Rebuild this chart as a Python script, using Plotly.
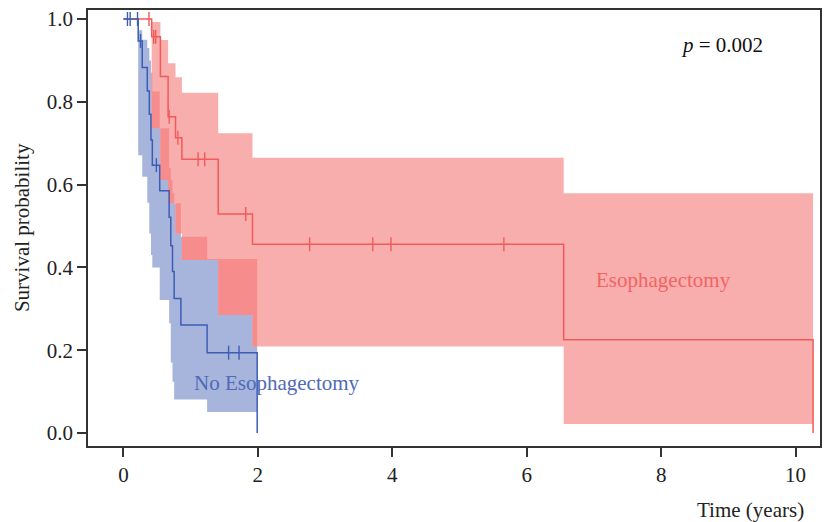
import plotly.graph_objects as go

# ---------------- data ----------------
# Esophagectomy group: step start times, survival, CI for each step interval
red_times = [0.0, 0.42, 0.55, 0.665, 0.775, 0.87, 1.41, 1.92, 6.55, 10.26]
red_surv = [1.0, 0.957, 0.861, 0.764, 0.713, 0.661, 0.529, 0.456, 0.225, 0.0]
red_lower = [1.0, 0.736, 0.611, 0.555, 0.482, 0.418, 0.285, 0.209, 0.022]
red_upper = [1.0, 0.993, 0.949, 0.893, 0.859, 0.822, 0.724, 0.665, 0.579]
red_cens_t = [0.38, 0.45, 0.48, 0.68, 0.81, 1.11, 1.21, 1.82, 2.77, 3.71, 3.98, 5.66]

# No Esophagectomy group
blue_times = [0.0, 0.22, 0.28, 0.355, 0.385, 0.41, 0.43, 0.54, 0.68, 0.705,
              0.73, 0.755, 0.855, 1.245, 1.99]
blue_surv = [1.0, 0.947, 0.883, 0.826, 0.77, 0.708, 0.647, 0.585, 0.521, 0.452,
             0.39, 0.325, 0.261, 0.194, 0.0]
blue_lower = [1.0, 0.671, 0.619, 0.556, 0.482, 0.43, 0.40, 0.321, 0.265, 0.170,
              0.124, 0.081, 0.081, 0.051]
blue_upper = [1.0, 0.973, 0.95, 0.93, 0.90, 0.87, 0.825, 0.736, 0.64, 0.611,
              0.58, 0.555, 0.474, 0.42]
blue_cens_t = [0.06, 0.10, 0.21, 0.255, 0.49, 1.565, 1.72]

x_ticks = [0, 2, 4, 6, 8, 10]
y_ticks = [0.0, 0.2, 0.4, 0.6, 0.8, 1.0]

group_names = ["Esophagectomy", "No Esophagectomy"]
p_label = "<i>p</i> = 0.002"

# ---------------- styling ----------------
RED_LINE = "#F25A5A"
BLUE_LINE = "#3D5DB5"
RED_FILL = "#F9AEAE"
BLUE_FILL = "#A7B5DC"
OVER_FILL = "#F78C8C"
FONT = "Liberation Serif, Times New Roman, serif"


def step_xy(times, surv):
    xs, ys = [], []
    for i, (t, s) in enumerate(zip(times, surv)):
        if i > 0:
            xs.append(t)
            ys.append(surv[i - 1])
        xs.append(t)
        ys.append(s)
    return xs, ys


def band_poly(times, lower, upper):
    n = len(lower)
    xs, ys = [], []
    for i in range(n):
        xs += [times[i], times[i + 1]]
        ys += [upper[i], upper[i]]
    for i in range(n - 1, -1, -1):
        xs += [times[i + 1], times[i]]
        ys += [lower[i], lower[i]]
    xs.append(xs[0])
    ys.append(ys[0])
    return xs, ys


def value_at(times, vals, t):
    # value of the step interval containing t (None outside)
    for i in range(len(vals)):
        if times[i] <= t < times[i + 1]:
            return vals[i]
    return None


def overlap_poly():
    bps = sorted(set(red_times + blue_times))
    xs, ys = [], []
    for a, b in zip(bps[:-1], bps[1:]):
        m = (a + b) / 2
        rl = value_at(red_times, red_lower, m)
        ru = value_at(red_times, red_upper, m)
        bl = value_at(blue_times, blue_lower, m)
        bu = value_at(blue_times, blue_upper, m)
        if None in (rl, ru, bl, bu):
            continue
        lo, hi = max(rl, bl), min(ru, bu)
        if hi > lo:
            xs += [a, b, b, a, a, None]
            ys += [lo, lo, hi, hi, lo, None]
    return xs, ys


fig = go.Figure()

bx, by = band_poly(blue_times, blue_lower, blue_upper)
fig.add_trace(go.Scatter(x=bx, y=by, fill="toself", fillcolor=BLUE_FILL,
                         line=dict(width=0), mode="lines", hoverinfo="skip"))
rx, ry = band_poly(red_times, red_lower, red_upper)
fig.add_trace(go.Scatter(x=rx, y=ry, fill="toself", fillcolor=RED_FILL,
                         line=dict(width=0), mode="lines", hoverinfo="skip"))
ox, oy = overlap_poly()
fig.add_trace(go.Scatter(x=ox, y=oy, fill="toself", fillcolor=OVER_FILL,
                         line=dict(width=0), mode="lines", hoverinfo="skip"))

sx, sy = step_xy(red_times, red_surv)
fig.add_trace(go.Scatter(x=sx, y=sy, mode="lines",
                         line=dict(color=RED_LINE, width=1.5)))
fig.add_trace(go.Scatter(x=red_cens_t,
                         y=[value_at(red_times, red_surv, t) for t in red_cens_t],
                         mode="markers",
                         marker=dict(symbol="line-ns", size=10,
                                     line=dict(color=RED_LINE, width=1.4))))

sx, sy = step_xy(blue_times, blue_surv)
fig.add_trace(go.Scatter(x=sx, y=sy, mode="lines",
                         line=dict(color=BLUE_LINE, width=1.5)))
fig.add_trace(go.Scatter(x=blue_cens_t,
                         y=[value_at(blue_times, blue_surv, t) for t in blue_cens_t],
                         mode="markers",
                         marker=dict(symbol="line-ns", size=10,
                                     line=dict(color=BLUE_LINE, width=1.4))))

axis_common = dict(showline=True, mirror=True, linecolor="#333", linewidth=1.5,
                   ticks="outside", ticklen=9, tickwidth=1.5, tickcolor="#333",
                   showgrid=False, zeroline=False,
                   tickfont=dict(family=FONT, size=21, color="#222"))

fig.update_layout(
    width=827, height=522,
    margin=dict(l=88, r=5, t=10, b=76),
    plot_bgcolor="white", paper_bgcolor="white",
    showlegend=False,
    xaxis=dict(range=[-0.527, 10.363], tickvals=x_ticks, **axis_common),
    yaxis=dict(range=[-0.0314, 1.0217], tickvals=y_ticks, tickformat=".1f",
               **axis_common),
    annotations=[
        dict(x=7.0, y=0.37, xref="x", yref="y", text=group_names[0],
             showarrow=False, xanchor="left", yanchor="middle",
             font=dict(family=FONT, size=21, color="#F06464")),
        dict(x=1.02, y=0.12, xref="x", yref="y", text=group_names[1],
             showarrow=False, xanchor="left", yanchor="middle",
             font=dict(family=FONT, size=21, color="#4F6AB8")),
        dict(x=8.26, y=0.937, xref="x", yref="y", text=p_label,
             showarrow=False, xanchor="left", yanchor="middle",
             font=dict(family=FONT, size=21, color="#111")),
        dict(x=-0.09, y=0.5, xref="paper", yref="paper",
             text="Survival probability", textangle=-90, showarrow=False,
             xanchor="center", yanchor="middle",
             font=dict(family=FONT, size=21, color="#222")),
        dict(x=0.981, y=-0.147, xref="paper", yref="paper",
             text="Time (years)", showarrow=False,
             xanchor="right", yanchor="middle",
             font=dict(family=FONT, size=21, color="#222")),
    ],
)

fig.write_html("out.html")
